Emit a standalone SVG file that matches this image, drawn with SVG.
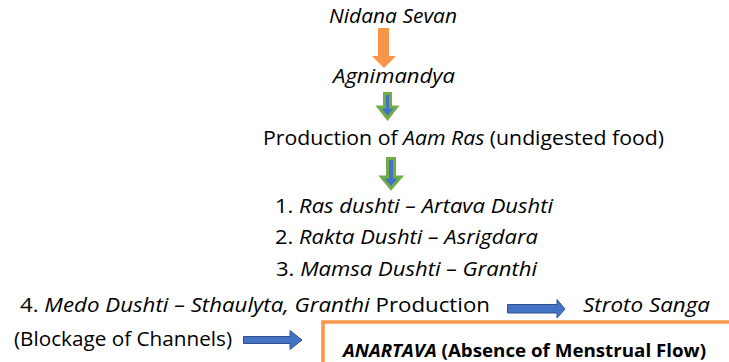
<svg xmlns="http://www.w3.org/2000/svg" width="729" height="362" viewBox="0 0 729 362">
<style>
text{font-family:"Open Sans","Noto Sans","Liberation Sans",sans-serif;font-size:20.5px;fill:#000}
.i{font-style:italic}
.b{font-weight:bold;font-size:18px}
.orange{fill:#F79646;stroke:none}
.green{fill:#4472C4;stroke:#70AD47;stroke-width:3}
.blue{fill:#4472C4;stroke:#2F528F;stroke-width:1}
</style>
<rect width="729" height="362" fill="#fff"/>
<g id="connectors">
<path class="orange" d="M378,28 H389 V56 H396 L384,68 L372,56 H378 Z"/>
<path class="green" d="M384.5,93.5 H390.5 V107 H396.5 L387.5,118.5 L378.5,107 H384.5 Z"/>
<path class="green" d="M387.5,158.5 H394.5 V177 H401 L391,188.5 L381.5,177 H387.5 Z"/>
<path class="blue" d="M507.5,304.5 H557 V299.5 L565,309 L557,318 V313 H507.5 Z"/>
<path class="blue" d="M243.5,336.5 H290 V330.5 L302,340 L290,349.5 V343.5 H243.5 Z"/>
</g>
<g id="n1"><text x="329" y="23" class="i" textLength="128" lengthAdjust="spacingAndGlyphs">Nidana Sevan</text></g>
<g id="n2"><text x="333" y="83" class="i" textLength="122" lengthAdjust="spacingAndGlyphs">Agnimandya</text></g>
<g id="n3"><text x="263" y="145" textLength="401" lengthAdjust="spacingAndGlyphs">Production of <tspan class="i">Aam Ras</tspan> (undigested food)</text></g>
<g id="n4">
<text x="275" y="213" textLength="278" lengthAdjust="spacingAndGlyphs">1. <tspan class="i">Ras dushti – Artava Dushti</tspan></text>
<text x="275" y="244" textLength="263" lengthAdjust="spacingAndGlyphs">2. <tspan class="i">Rakta Dushti – Asrigdara</tspan></text>
<text x="276" y="276" textLength="261" lengthAdjust="spacingAndGlyphs">3. <tspan class="i">Mamsa Dushti – Granthi</tspan></text>
<text x="20" y="312" textLength="470" lengthAdjust="spacingAndGlyphs">4. <tspan class="i">Medo Dushti – Sthaulyta, Granthi</tspan> Production</text>
</g>
<g id="n5"><text x="583" y="312" class="i" textLength="127" lengthAdjust="spacingAndGlyphs">Stroto Sanga</text></g>
<g id="n6"><text x="14" y="346" textLength="218" lengthAdjust="spacingAndGlyphs">(Blockage of Channels)</text></g>
<g id="n7">
<rect x="323" y="322" width="430" height="60" fill="none" stroke="#F79646" stroke-width="3.5"/>
<text x="343" y="357" class="b" textLength="363" lengthAdjust="spacingAndGlyphs"><tspan class="i">ANARTAVA</tspan> (Absence of Menstrual Flow)</text>
</g>
</svg>
